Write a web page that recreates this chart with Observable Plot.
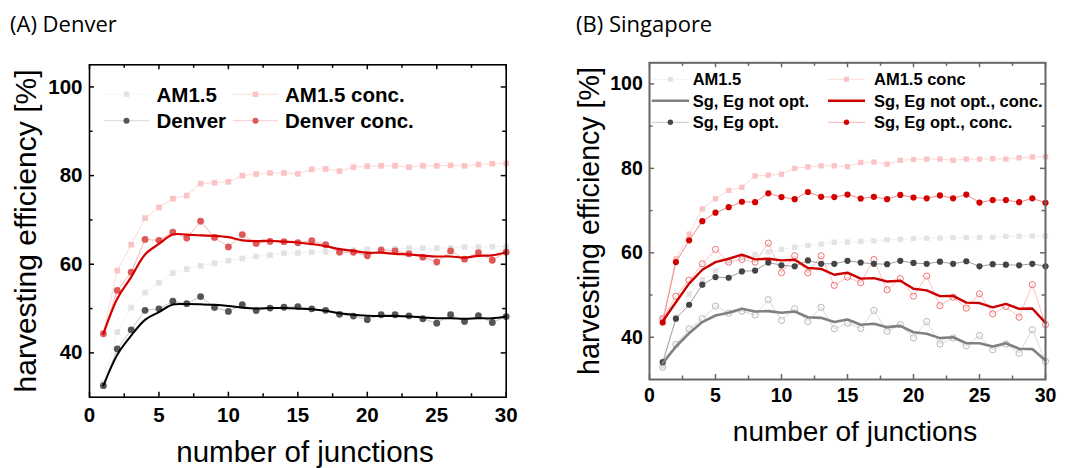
<!DOCTYPE html>
<html><head><meta charset="utf-8">
<script src="https://cdn.jsdelivr.net/npm/d3@7"></script>
<script src="https://cdn.jsdelivr.net/npm/@observablehq/plot@0.6"></script>
<style>
html,body{margin:0;padding:0;background:#fff;}
#wrap{position:relative;width:1065px;height:468px;overflow:hidden;background:#fff;}
#wrap svg{position:absolute;top:0;overflow:visible;max-width:none;}
</style></head><body><div id="wrap"></div>
<script>
// ---------- data ----------
const junctions = [1,2,3,4,5,6,7,8,9,10,11,12,13,14,15,16,17,18,19,20,21,22,23,24,25,26,27,28,29,30];
const xTicksMajor = [0,5,10,15,20,25,30];
const xTicksMinor = [2.5,7.5,12.5,17.5,22.5,27.5];
const yTicksMajor = [40,60,80,100];
const yTicksMinor = [50,70,90];

const am15 = [33.2,44.7,50.2,53.6,55.8,58.0,58.9,59.65,60.2,60.8,61.3,61.75,62.05,62.5,62.55,62.7,62.85,63.1,63.2,63.4,63.45,63.5,63.6,63.6,63.65,63.7,63.9,63.9,63.95,64.0];
const am15conc = [44.5,58.6,64.4,70.4,72.8,74.8,75.5,78.2,78.4,78.6,80.0,80.35,80.6,80.6,80.4,81.4,81.5,81.0,81.9,82.1,82.2,82.2,81.9,82.2,82.2,82.3,82.2,82.5,82.7,82.75];

const denver = [32.6,40.9,45.2,49.6,49.95,51.65,51.1,52.7,50.25,49.35,50.9,49.55,50.1,50.3,50.45,49.95,49.6,48.7,48.3,47.5,48.6,48.6,48.35,47.7,46.7,48.6,47.1,48.4,46.85,48.2];
const denverSmooth = [32.6,39.6,43.9,47.45,49.2,50.9,51.0,50.95,50.85,50.6,50.2,50.0,50.1,50.1,50.0,49.85,49.5,48.95,48.6,48.4,48.3,48.3,48.2,48.0,47.8,47.8,47.7,47.8,47.8,48.2];
const denverConc = [44.3,54.1,58.2,65.6,65.4,67.25,65.9,69.7,66.05,63.9,66.7,64.7,65.15,65.1,64.85,65.3,64.4,62.7,62.7,61.9,63.2,63.0,62.35,61.6,60.5,63.0,61.15,62.6,60.9,62.7];
const denverConcSmooth = [44.3,52.2,57.1,62.2,64.6,66.7,66.7,66.5,66.4,66.1,65.4,65.2,65.3,65.1,64.9,64.55,64.1,63.4,63.0,62.6,62.6,62.35,62.2,61.95,61.75,61.75,61.5,61.9,62.0,62.7];

const sgOpt = [34.1,44.4,47.7,52.45,54.25,54.1,55.6,55.8,57.7,57.05,56.8,58.2,57.4,57.4,58.1,57.7,57.4,57.3,58.1,57.6,57.4,57.9,57.4,58.0,56.8,57.3,57.2,57.05,57.4,56.8];
const sgOptConc = [43.5,57.8,62.95,67.5,69.5,70.8,72.1,72.0,74.1,73.2,72.7,74.4,73.25,73.2,73.8,72.85,73.25,72.7,73.7,73.1,72.9,73.6,72.9,73.8,71.9,72.5,72.5,72.0,72.9,71.85];
const sgNotOptRaw = [32.9,38.3,42.0,44.4,47.4,45.7,46.2,45.3,48.9,44.0,46.75,43.7,47.1,42.0,43.3,42.1,46.35,41.4,43.0,39.85,43.7,38.4,39.85,38.0,40.4,37.05,38.4,36.2,41.8,34.3];
const sgNotOpt = [33.9,37.8,40.95,43.6,45.15,45.8,46.75,46.1,46.2,45.8,46.1,44.75,44.6,43.6,44.2,42.95,43.2,42.4,42.7,41.2,40.85,39.8,40.0,38.6,38.6,37.8,38.6,37.3,37.2,34.5];
const sgNotOptConcRaw = [44.4,49.7,53.5,57.4,60.8,57.8,58.45,57.8,62.3,55.3,59.3,55.25,59.3,52.3,54.25,52.9,58.4,51.25,53.9,49.75,54.5,47.5,49.5,46.9,50.3,45.55,47.3,44.75,52.45,43.0];
const sgNotOptConc = [43.8,48.3,52.7,56.0,57.8,58.6,59.55,58.45,58.6,58.2,58.35,56.4,56.2,54.8,55.3,53.9,54.0,53.2,53.4,51.5,51.1,49.75,49.8,48.2,48.1,47.1,47.9,46.75,46.8,43.4];

const xLabel = "number of junctions";
const yLabel = "harvesting efficiency [%]";

// ---------- helpers ----------
const rows = ys => junctions.map((j, i) => ({j, v: ys[i]}));
const FONT = "'Liberation Sans', Arial, sans-serif";

function series(ys, o) {
  const d = rows(ys), m = [];
  if (o.line) m.push(Plot.line(d, {x: "j", y: "v", stroke: o.line, strokeWidth: o.lw || 1, curve: o.curve || "linear"}));
  if (o.symbol) m.push(Plot.dot(d, {x: "j", y: "v", symbol: o.symbol, r: o.r || 3.3,
      fill: o.fill || "none", stroke: o.stroke || "none", strokeWidth: o.sw || 1}));
  return m;
}

function txt(sel, o) {
  const t = sel.append("text")
    .style("font-family", o.family || FONT)
    .style("font-size", o.fs + "px")
    .style("font-weight", o.bold ? "bold" : "normal")
    .style("text-anchor", o.anchor || "start")
    .attr("fill", "#000")
    .text(o.text);
  if (o.transform) t.attr("transform", o.transform); else t.attr("x", o.x).attr("y", o.y);
  if (o.dy) t.attr("dy", o.dy);
  return t;
}

function makePanel(cfg) {
  const W = 530, H = 468;
  const ph = H - cfg.mt - cfg.mb, pw = W - cfg.ml - cfg.mr;
  const tk = (data, inset, dim) => dim === "x"
    ? [Plot.tickX(data, {insetTop: ph - inset, stroke: cfg.frame, strokeWidth: 1.5}),
       Plot.tickX(data, {insetBottom: ph - inset, stroke: cfg.frame, strokeWidth: 1.5})]
    : [Plot.tickY(data, {insetRight: pw - inset, stroke: cfg.frame, strokeWidth: 1.5}),
       Plot.tickY(data, {insetLeft: pw - inset, stroke: cfg.frame, strokeWidth: 1.5})];
  const svg = Plot.plot({
    width: W, height: H,
    marginLeft: cfg.ml, marginRight: cfg.mr, marginTop: cfg.mt, marginBottom: cfg.mb,
    x: {domain: [0, 30]},
    y: {domain: [30, 105]},
    style: {fontFamily: FONT, background: "transparent", overflow: "visible"},
    marks: [
      ...cfg.marks,
      Plot.frame({stroke: cfg.frame, strokeWidth: cfg.frameW}),
      ...tk(xTicksMajor, 5, "x"), ...tk(xTicksMinor, 3.5, "x"),
      ...tk(yTicksMajor, 5, "y"), ...tk(yTicksMinor, 3.5, "y"),
      Plot.axisX({ticks: xTicksMajor, tickSize: 0, tickPadding: cfg.xPad, tickFormat: d => String(d),
        fontSize: cfg.tickFs, fontWeight: "bold", fill: "#000", label: null}),
      Plot.axisY({ticks: yTicksMajor, tickSize: 0, tickPadding: cfg.yPad, tickFormat: d => String(d),
        fontSize: cfg.tickFs, fontWeight: "bold", fill: "#000", label: null})
    ]
  });
  svg.style.left = cfg.left + "px";
  const s = d3.select(svg);
  s.selectAll('g[aria-label$="tick label"], g[aria-label$="tick label"] text')
    .style("font-size", cfg.tickFs + "px").style("font-weight", "bold").style("font-family", FONT);
  const ox = cfg.left;
  txt(s, {text: cfg.title, x: cfg.titleX - ox, y: cfg.titleY, fs: cfg.titleFs,
          family: "'Open Sans', 'Noto Sans', sans-serif"});
  txt(s, {text: xLabel, x: cfg.xlX - ox, y: cfg.xlY, fs: cfg.xlFs, anchor: "middle"});
  txt(s, {text: yLabel, transform: `translate(${cfg.ylX - ox},${cfg.ylY}) rotate(-90)`, fs: cfg.ylFs, anchor: "middle"});
  const g = s.append("g");
  cfg.legend.forEach(e => {
    const y = e.y;
    g.append("line").attr("x1", e.x1 - ox).attr("x2", e.x2 - ox).attr("y1", y).attr("y2", y)
      .attr("stroke", e.line).attr("stroke-width", e.lw || 1);
    const cx = (e.x1 + e.x2) / 2 - ox;
    if (e.symbol === "square") {
      const a = e.size || 5.5;
      g.append("rect").attr("x", cx - a / 2).attr("y", y - a / 2).attr("width", a).attr("height", a).attr("fill", e.fill);
    } else if (e.symbol === "circle") {
      g.append("circle").attr("cx", cx).attr("cy", y).attr("r", e.r || 3).attr("fill", e.fill);
    }
    txt(g, {text: e.label, x: e.tx - ox, y: y, dy: "0.36em", fs: cfg.legFs, bold: true});
  });
  document.getElementById("wrap").appendChild(svg);
}

// ---------- panel A: Denver ----------
makePanel({
  left: 0, ml: 89, mr: 24.3, mt: 64.3, mb: 71.3,
  frame: "#000", frameW: 1.6, tickFs: 20.5, xPad: 10.5, yPad: 7,
  title: "(A) Denver", titleX: 10, titleY: 31.5, titleFs: 22,
  xlX: 305, xlY: 462, xlFs: 29.5, ylX: 35.5, ylY: 231, ylFs: 30,
  legFs: 20.5,
  marks: [
    ...series(am15, {line: "#f2f2f2", symbol: "square", r: 3.2, fill: "#e3e3e3"}),
    ...series(am15conc, {line: "#fcd9d9", symbol: "square", r: 3.2, fill: "#fbc3c3"}),
    ...series(denver, {line: "#c8c8c8", symbol: "circle", r: 3.4, fill: "#555555"}),
    ...series(denverConc, {line: "#f5b5b5", symbol: "circle", r: 3.4, fill: "#e05757"}),
    ...series(denverSmooth, {line: "#000000", lw: 2, curve: "catmull-rom"}),
    ...series(denverConcSmooth, {line: "#d40000", lw: 2.2, curve: "catmull-rom"})
  ],
  legend: [
    {label: "AM1.5", x1: 104, x2: 149, tx: 156.5, y: 94.3, line: "#f4f4f4", symbol: "square", fill: "#e3e3e3"},
    {label: "Denver", x1: 104, x2: 149, tx: 156.5, y: 120.7, line: "#d8d8d8", symbol: "circle", fill: "#555555"},
    {label: "AM1.5 conc.", x1: 233, x2: 278, tx: 285, y: 94.3, line: "#fcdcdc", symbol: "square", fill: "#fbc3c3"},
    {label: "Denver conc.", x1: 233, x2: 278, tx: 285, y: 120.7, line: "#f8cccc", symbol: "circle", fill: "#e05757"}
  ]
});

// ---------- panel B: Singapore ----------
makePanel({
  left: 535, ml: 114, mr: 20, mt: 62.3, mb: 89,
  frame: "#666666", frameW: 2, tickFs: 19.5, xPad: 8.7, yPad: 6.7,
  title: "(B) Singapore", titleX: 576, titleY: 31.5, titleFs: 22,
  xlX: 855, xlY: 440.5, xlFs: 28, ylX: 598.5, ylY: 221, ylFs: 28.6,
  legFs: 16.5,
  marks: [
    ...series(am15, {line: "#f2f2f2", symbol: "square", r: 3, fill: "#e3e3e3"}),
    ...series(am15conc, {line: "#fcd9d9", symbol: "square", r: 3, fill: "#fbc3c3"}),
    ...series(sgNotOptRaw, {line: "#dadada", symbol: "circle", r: 3.1, stroke: "#b8b8b8", sw: 1}),
    ...series(sgNotOptConcRaw, {line: "#fac0c0", symbol: "circle", r: 3.1, stroke: "#f07272", sw: 1}),
    ...series(sgOpt, {line: "#a0a0a0", symbol: "circle", r: 3.1, fill: "#444444"}),
    ...series(sgOptConc, {line: "#f08a8a", symbol: "circle", r: 3.1, fill: "#d20000"}),
    ...series(sgNotOpt, {line: "#808080", lw: 2.6}),
    ...series(sgNotOptConc, {line: "#cc0000", lw: 2.4})
  ],
  legend: [
    {label: "AM1.5", x1: 651.7, x2: 689, tx: 692.7, y: 79.3, line: "#f2f2f2", symbol: "square", size: 5, fill: "#e3e3e3"},
    {label: "Sg, Eg not opt.", x1: 651.7, x2: 689, tx: 692.7, y: 100.7, line: "#808080", lw: 2.6},
    {label: "Sg, Eg opt.", x1: 651.7, x2: 689, tx: 692.7, y: 122.3, line: "#c8c8c8", symbol: "circle", r: 2.7, fill: "#444444"},
    {label: "AM1.5 conc", x1: 828, x2: 865, tx: 874, y: 79.3, line: "#fcd9d9", symbol: "square", size: 5, fill: "#fbc3c3"},
    {label: "Sg, Eg not opt., conc.", x1: 828, x2: 865, tx: 874, y: 100.7, line: "#cc0000", lw: 2.4},
    {label: "Sg, Eg opt., conc.", x1: 828, x2: 865, tx: 874, y: 122.3, line: "#f6b0b0", symbol: "circle", r: 2.7, fill: "#d20000"}
  ]
});
</script></body></html>
